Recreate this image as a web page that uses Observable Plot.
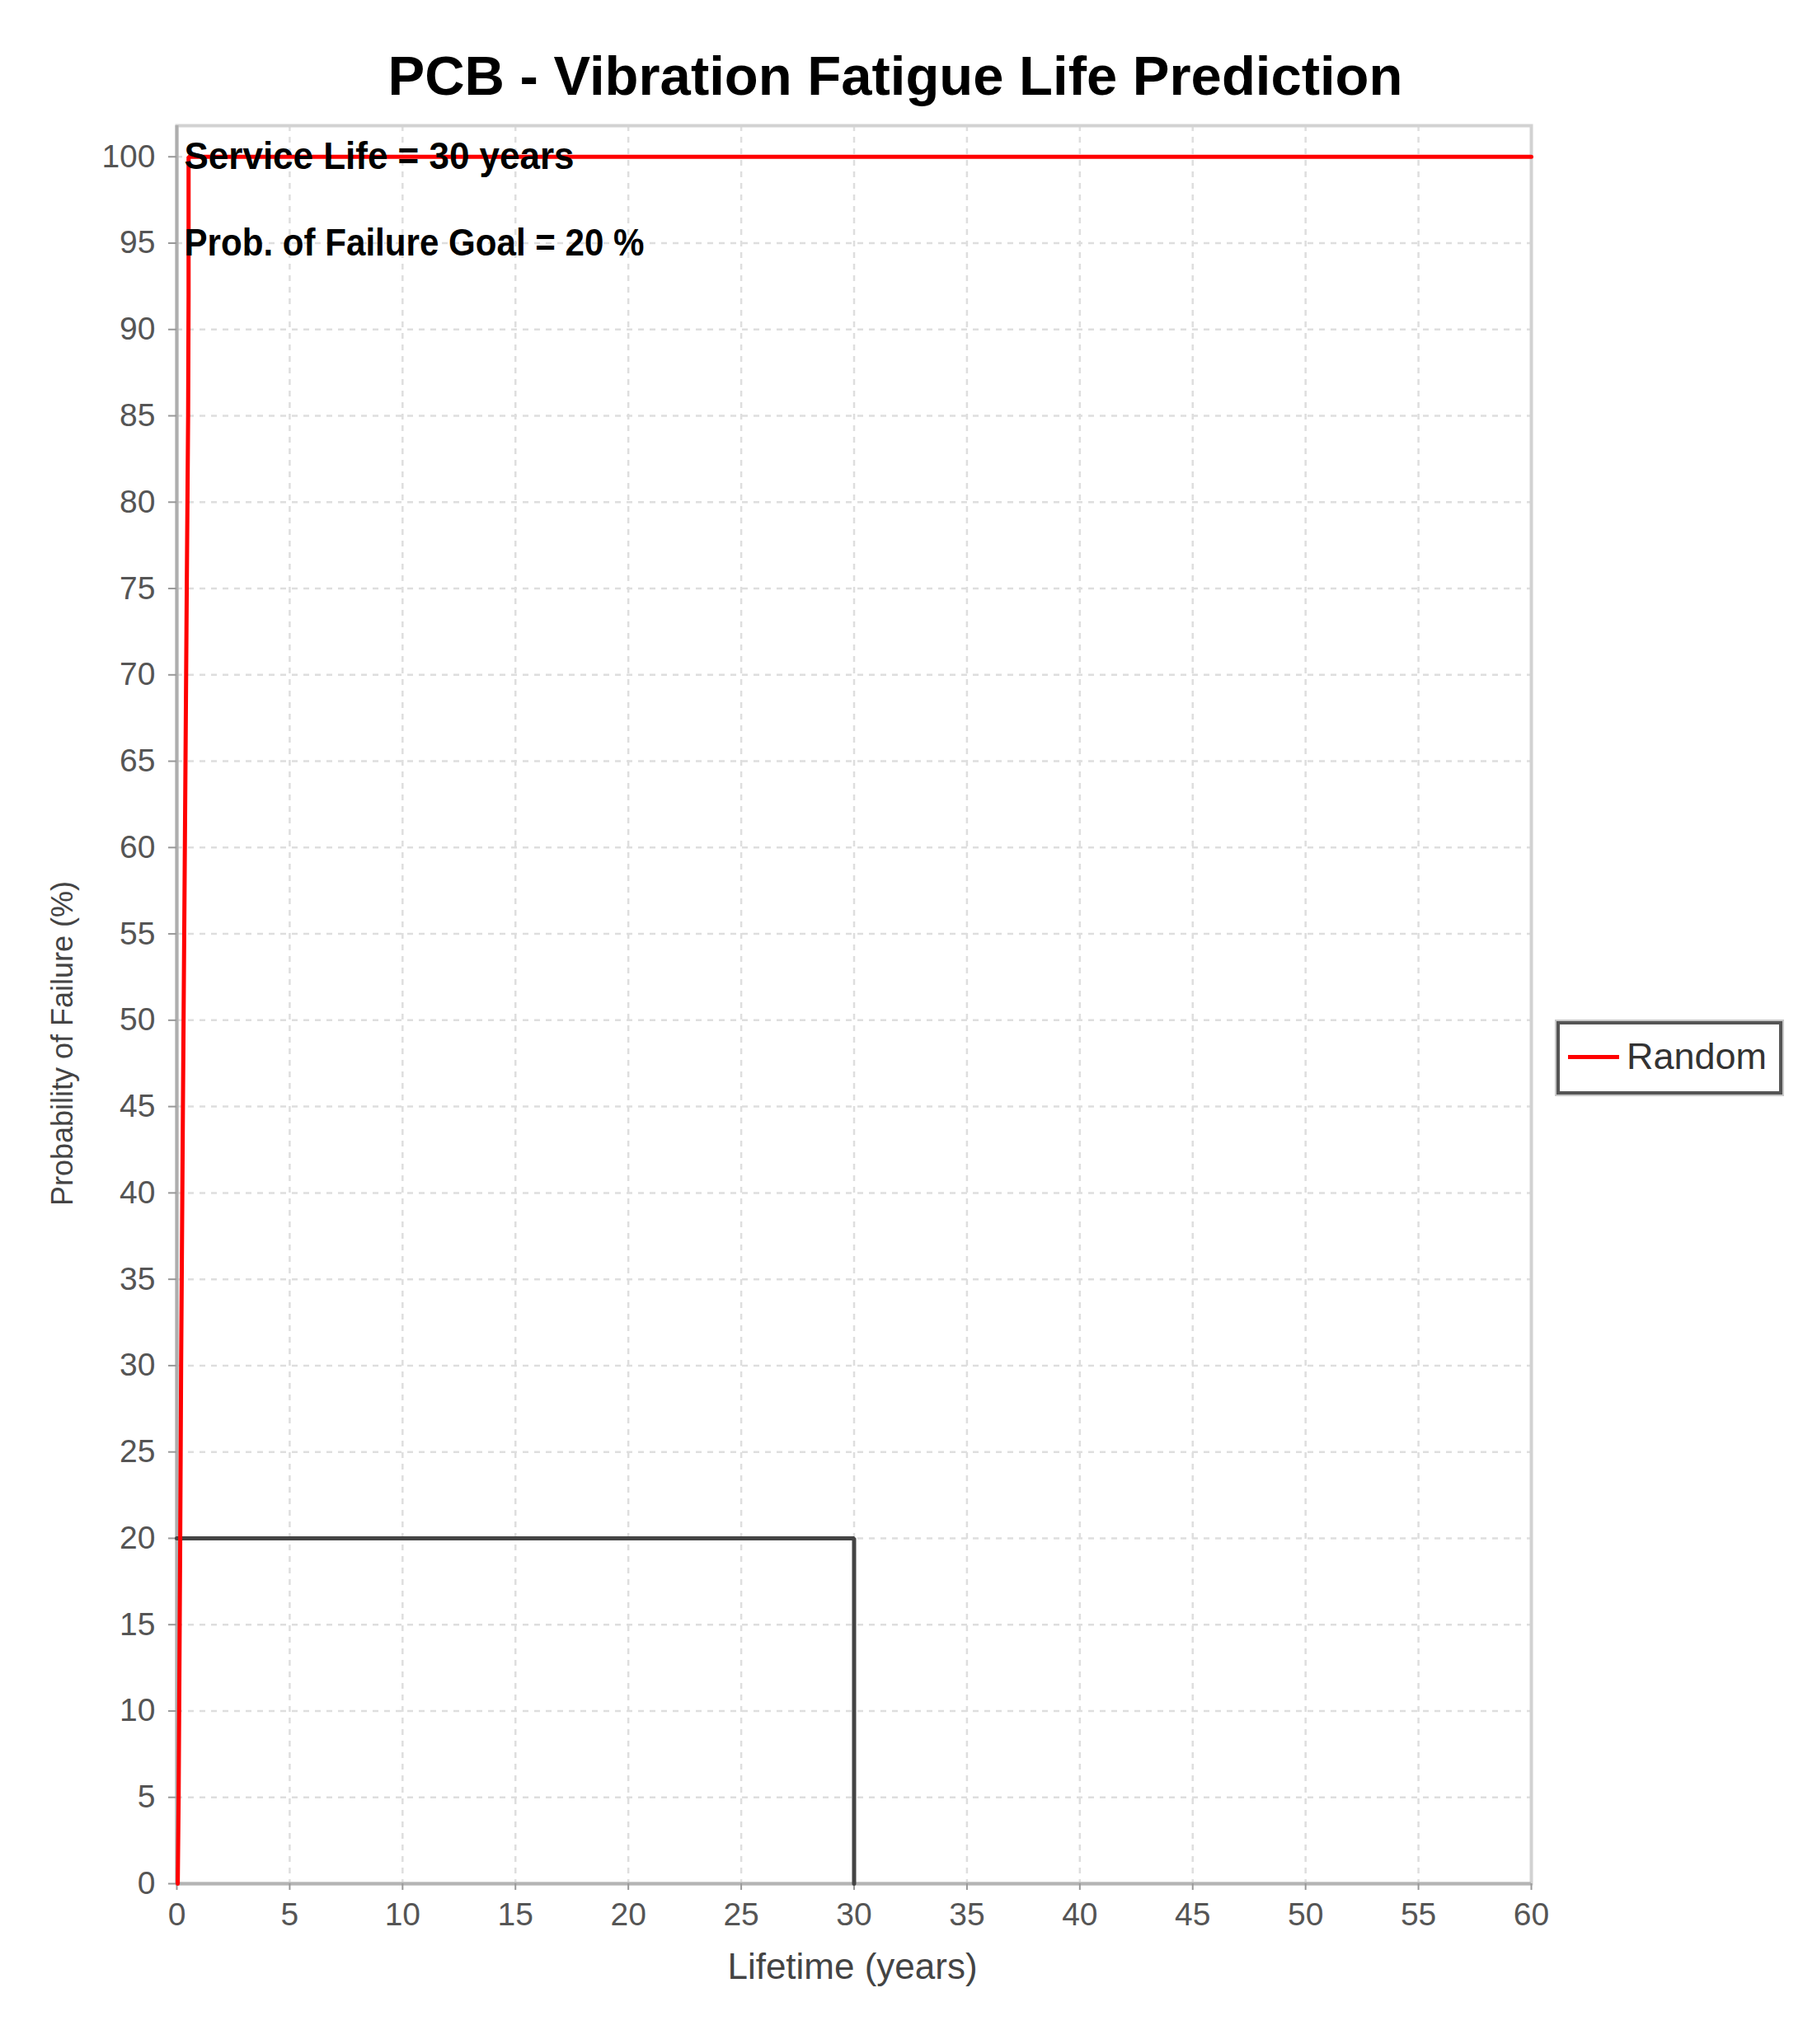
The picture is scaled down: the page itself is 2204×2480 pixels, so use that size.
<!DOCTYPE html>
<html>
<head>
<meta charset="utf-8">
<script src="https://cdn.jsdelivr.net/npm/d3@7"></script>
<script src="https://cdn.jsdelivr.net/npm/@observablehq/plot@0.6"></script>
<style>
  html, body { margin: 0; padding: 0; background: #fff; }
  #wrap { position: relative; width: 2204px; height: 2480px; font-family: "Liberation Sans", Arial, sans-serif; }
  #title { position: absolute; left: 0; top: 58px; width: 2172px; text-align: center; font-size: 67px; line-height: 67px; font-weight: bold; color: #000; }
  #chart { position: absolute; left: 0; top: 0; }
  #legend { position: absolute; left: 1888px; top: 1239px; width: 274px; height: 89px; box-sizing: border-box; border: 4px solid #555; box-shadow: 0 0 0 2px #c8c8c8; background: #fff; }
  #legend .sw { position: absolute; left: 10px; top: 37px; width: 62px; height: 5px; background: #ff0000; }
  #legend .lab { position: absolute; left: 81px; top: 14px; font-size: 45px; line-height: 50px; color: #333; }
</style>
</head>
<body>
<div id="wrap">
  <div id="chart"></div>
  <div id="title">PCB - Vibration Fatigue Life Prediction</div>
  <div id="legend"><div class="sw"></div><div class="lab">Random</div></div>
</div>
<script>
// ---- data ----
const xTicks = [0, 5, 10, 15, 20, 25, 30, 35, 40, 45, 50, 55, 60];
const yTicks = [0, 5, 10, 15, 20, 25, 30, 35, 40, 45, 50, 55, 60, 65, 70, 75, 80, 85, 90, 95, 100];

// "Random" failure probability curve (years, %)
const randomYears = [0.04, 0.08, 0.15, 0.19, 0.27, 0.35, 0.44, 0.50, 0.52, 0.52, 60];
const randomProb  = [0,    5,    20,   30,   45,   59,   75,   85,   92,   100,  100];

// goal box: service life 30 years, failure goal 20 %
const goalYears = [0, 30, 30];
const goalProb  = [20, 20, 0];

const annotYears = [0.33, 0.33];
const annotProb  = [100, 95];
const annotText  = ["Service Life = 30 years", "Prob. of Failure Goal = 20 %"];

const randomData = randomYears.map((x, i) => ({x, y: randomProb[i]}));
const goalData = goalYears.map((x, i) => ({x, y: goalProb[i]}));
const annotData = annotYears.map((x, i) => ({x, y: annotProb[i], t: annotText[i]}));

const chart = Plot.plot({
  width: 2204,
  height: 2440,
  marginLeft: 214,
  marginRight: 347,
  marginTop: 152,
  marginBottom: 155,
  style: { fontFamily: "Liberation Sans, Arial, sans-serif", fontSize: "39px", background: "#fff" },
  x: { domain: [0, 60] },
  y: { domain: [0, 101.8] },
  marks: [
    Plot.gridX(xTicks.filter(d => d > 0 && d < 60), { stroke: "#dedede", strokeOpacity: 1, strokeWidth: 2.5, strokeDasharray: "7,7" }),
    Plot.gridY(yTicks.filter(d => d > 0), { stroke: "#dedede", strokeOpacity: 1, strokeWidth: 2.5, strokeDasharray: "7,7" }),
    Plot.frame({ stroke: "#d2d2d2", strokeWidth: 4 }),
    Plot.ruleX([0], { stroke: "#aeaeae", strokeWidth: 4 }),
    Plot.ruleY([0], { stroke: "#b4b4b4", strokeWidth: 4 }),
    Plot.axisX(xTicks, { tickSize: 8, tickPadding: 15, fill: "#555", stroke: "#999", strokeWidth: 2, fontSize: 39, label: null }),
    Plot.axisY(yTicks, { tickSize: 10, tickPadding: 16, fill: "#555", stroke: "#999", strokeWidth: 2, fontSize: 39, label: null }),
    Plot.line(goalData, { x: "x", y: "y", stroke: "#444", strokeWidth: 5, strokeLinejoin: "miter" }),
    Plot.line(randomData, { x: "x", y: "y", stroke: "#ff0000", strokeWidth: 5, strokeLinejoin: "miter" }),
    Plot.text(annotData, { x: "x", y: "y", text: "t", textAnchor: "start", lineAnchor: "middle", fill: "#000", fontWeight: "bold", fontSize: 46 }),
    Plot.text(["Lifetime (years)"], { frameAnchor: "bottom", textAnchor: "middle", dy: 101, dx: -2, lineAnchor: "middle", fill: "#444", fontSize: 44 }),
    Plot.text(["Probability of Failure (%)"], { frameAnchor: "left", textAnchor: "middle", rotate: -90, dx: -138, dy: 47, lineAnchor: "middle", fill: "#444", fontSize: 36 })
  ]
});
document.getElementById("chart").appendChild(chart);

// match measured text lengths of the annotations (start-anchored)
const lengths = {"Service Life = 30 years": 473, "Prob. of Failure Goal = 20 %": 558};
chart.querySelectorAll("text").forEach(t => {
  const L = lengths[t.textContent];
  if (L) { t.setAttribute("textLength", L); t.setAttribute("lengthAdjust", "spacingAndGlyphs"); }
});
</script>
</body>
</html>
